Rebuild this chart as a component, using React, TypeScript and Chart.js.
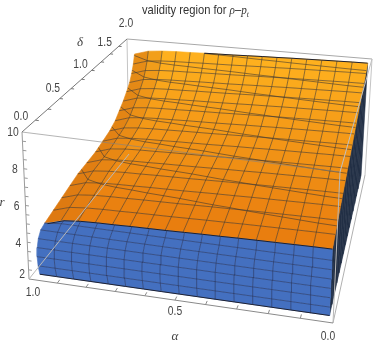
import React, { useEffect, useRef } from "react";
import { Chart, registerables } from "chart.js";
Chart.register(...registerables);

const alphaTicks = [1.0, 0.5, 0.0];
const deltaTicks = [0.0, 0.5, 1.0, 1.5, 2.0];
const rTicks = [2, 4, 6, 8, 10];
// surface height r along delta (delta = 0, 0.125, ... 2)
const rAlongDelta = [5.6, 5.85, 6.1, 6.35, 6.6, 6.85, 7.1, 7.35, 7.6, 7.85, 8.1, 8.35, 8.6, 8.85, 9.1, 9.4, 9.75];
// left limit of the surface in 1-alpha for each delta
const leftLimit = [0.05, 0.055, 0.06, 0.065, 0.07, 0.08, 0.09, 0.095, 0.1, 0.1, 0.095, 0.09, 0.083, 0.075, 0.063, 0.05, 0.035];
// drop of r towards the left rim, by column of 1-alpha
const rimDrop = [0.7, 0.42, 0.33, 0.29, 0.27, 0.24, 0.22, 0.2, 0.17, 0.14, 0.12, 0.09, 0.07, 0.05, 0.03, 0.01, 0];
// left limit of the front wall for r levels
const wallLevels = [2.05, 2.5, 3, 3.5, 4, 4.5, 5, 5.6];
const wallLeft = [0.025, 0.02, 0.018, 0.02, 0.025, 0.035, 0.05, 0.06];
const uMax = 0.985;
const vFront = 0.03;

// projection box: [u(1-alpha), v(delta/2), w((r-2)/8)] corners, in canvas pixels
const corners: Record<string, [number, number]> = {
  "000": [29, 279], "100": [333, 323], "110": [365, 175], "010": [129, 154],
  "001": [22, 132], "101": [340, 172], "111": [372, 59], "011": [127, 39],
};
const wu = -0.076, wv = 0.31, ww = 0;
function project(u: number, v: number, w: number) {
  let X = 0, Y = 0, T = 0;
  for (const a of [0, 1]) for (const b of [0, 1]) for (const c of [0, 1]) {
    const B = (a ? u : 1 - u) * (b ? v : 1 - v) * (c ? w : 1 - w);
    const W = (1 + wu * a + wv * b + ww * c) * B;
    const p = corners[`${a}${b}${c}`];
    X += p[0] * W; Y += p[1] * W; T += W;
  }
  return { x: X / T, y: Y / T };
}
const W = (r: number) => (r - 2) / 8;
const N = rAlongDelta.length - 1;
const mix = (a: number[], b: number[], t: number) => a.map((x, i) => Math.round(x + (b[i] - x) * t));
const rgb = (c: number[]) => `rgb(${c[0]},${c[1]},${c[2]})`;

function gridU(i: number, j: number) {
  return leftLimit[j] + (uMax - leftLimit[j]) * (i / N);
}
function gridPoint(i: number, j: number) {
  const v = vFront + (j / N) * (1 - vFront - 0.01);
  return project(gridU(i, j), v, W(rAlongDelta[j] - rimDrop[i]));
}

function buildDatasets() {
  const out: any[] = [];
  const poly = (pts: any[], color: string) =>
    out.push({ data: [...pts, pts[0]], showLine: true, fill: "shape", backgroundColor: color, borderColor: color, borderWidth: 0.6, pointRadius: 0, tension: 0 });
  const line = (pts: any[], color: string, width = 1) =>
    out.push({ data: pts, showLine: true, fill: false, borderColor: color, borderWidth: width, pointRadius: 0, tension: 0 });
  const edge = (a: number[], b: number[], color: string) =>
    line([project(a[0], a[1], a[2]), project(b[0], b[1], b[2])], color);

  // back box edges
  const light = "#c4c4c4";
  edge([0, 1, 1], [1, 1, 1], "#a8a8a8");
  edge([1, 1, 1], [1, 1, 0], light);
  edge([0, 1, 1], [0, 1, 0], light);
  edge([1, 1, 0], [1, 0, 0], "#b0b0b0");

  // dark side
  for (let j = 0; j < N; j++) {
    const vA = vFront + (j / N) * (1 - vFront - 0.01), vB = vFront + ((j + 1) / N) * (1 - vFront - 0.01);
    poly([project(uMax, vA, 0.005), project(uMax, vB, 0.005), project(uMax, vB, W(rAlongDelta[j + 1])), project(uMax, vA, W(rAlongDelta[j]))], "#222f45");
  }
  // orange surface
  for (let j = N - 1; j >= 0; j--) {
    for (let i = 0; i < N; i++) {
      const t = (j + 0.5) / N;
      let c = mix([232, 124, 14], [255, 178, 30], t);
      if (i < 2) c = mix(c, [214, 118, 18], ((2 - i) / 2) * 0.6);
      poly([gridPoint(i, j), gridPoint(i + 1, j), gridPoint(i + 1, j + 1), gridPoint(i, j + 1)], rgb(c));
    }
  }
  // front wall
  const levelsAt = (i: number) => wallLevels.map((lv, k) => {
    const top = rAlongDelta[0] - rimDrop[i];
    const r = Math.min(lv, top);
    const left = wallLeft[k];
    return project(left + (uMax - left) * (i / N), vFront, W(r));
  });
  for (let i = 0; i < N; i++) {
    const a = levelsAt(i), b = levelsAt(i + 1);
    for (let k = 0; k < wallLevels.length - 1; k++) poly([a[k], b[k], b[k + 1], a[k + 1]], "#4470c0");
  }
  const wallMesh = "rgba(40,50,85,0.55)";
  for (let i = 1; i < N; i++) line(levelsAt(i), wallMesh);
  for (let k = 1; k < wallLevels.length - 1; k++) {
    const pts = [];
    for (let i = 0; i <= N; i++) pts.push(levelsAt(i)[k]);
    line(pts, wallMesh);
  }
  // mesh of the surface
  const mesh = "rgba(60,55,50,0.58)";
  for (let i = 1; i < N; i++) {
    const pts = [];
    for (let j = 0; j <= N; j++) pts.push(gridPoint(i, j));
    line(pts, mesh);
  }
  for (let j = 1; j < N; j++) {
    const pts = [];
    for (let i = 0; i <= N; i++) pts.push(gridPoint(i, j));
    line(pts, mesh);
  }
  for (let lv = 6; lv <= 9.5; lv += 0.5) {
    const pts = [];
    for (let i = 0; i <= N; i++) {
      for (let j = 0; j < N; j++) {
        const r0 = rAlongDelta[j] - rimDrop[i], r1 = rAlongDelta[j + 1] - rimDrop[i];
        if (r0 <= lv && lv < r1) {
          const f = (lv - r0) / (r1 - r0);
          const a = gridPoint(i, j), b = gridPoint(i, j + 1);
          pts.push({ x: a.x + (b.x - a.x) * f, y: a.y + (b.y - a.y) * f });
          break;
        }
      }
    }
    line(pts, mesh);
  }
  // crisp rims
  const rim = "#1d2030";
  const topBack = [];
  for (let i = 5; i <= N; i++) topBack.push(gridPoint(i, N));
  line(topBack, rim);
  const wallTop = [];
  for (let i = 0; i <= N; i++) wallTop.push(levelsAt(i)[wallLevels.length - 1]);
  line(wallTop, rim);
  const wallBottom = [];
  for (let i = 0; i <= N; i++) wallBottom.push(levelsAt(i)[0]);
  line(wallBottom, rim);

  // front box edges and axes
  edge([0, 0, 1], [1, 0, 1], "rgba(130,130,130,0.6)");
  edge([1, 0, 1], [1, 0, 0], "#b8b8b8");
  edge([1, 1, 1], [1, 0, 1], "#c0c0c0");
  const axis = "#8a8a8a";
  edge([0, 0, 0], [1, 0, 0], axis);
  edge([0, 0, 0], [0, 0, 1], "#9a9a9a");
  edge([0, 0, 1], [0, 1, 1], "#777777");
  edge([0, 0, 0], [0, 1, 0], "#b8b8b8");
  for (let k = 1; k < 10; k++) {
    edge([k / 10, 0, 0], [k / 10, 0.02, 0], axis);
    edge([0, k / 20 * 2, 1], [0.012, k / 20 * 2, 1], "#777777");
  }
  for (let k = 1; k < 16; k++) edge([0, 0, k / 16], [0.012, 0, k / 16], "#9a9a9a");
  return out;
}

const textPlugin = {
  id: "labels3d",
  afterDraw(chart: any) {
    const { ctx, scales } = chart;
    const narrow = 0.86;
    const put = (text: string, x: number, y: number, font: string, color = "#454545", sx = narrow) => {
      ctx.save();
      ctx.font = font; ctx.fillStyle = color; ctx.textAlign = "center"; ctx.textBaseline = "middle";
      ctx.translate(scales.x.getPixelForValue(x), scales.y.getPixelForValue(y));
      ctx.scale(sx, 1);
      ctx.fillText(text, 0, 0);
      ctx.restore();
    };
    const tick = "12px 'Liberation Sans'";
    alphaTicks.forEach((a) => {
      const p = project(1 - a, 0, 0);
      put(a.toFixed(1), p.x + (a === 1 ? 4 : a === 0 ? -5 : 0), p.y + (a === 1 ? 14 : a === 0 ? 14 : 12), tick);
    });
    deltaTicks.forEach((d) => {
      const p = project(0, d / 2, 1);
      put(d.toFixed(1), p.x - 1, p.y - 15, tick);
    });
    rTicks.forEach((r) => {
      const p = project(0, 0, (r - 2) / 8);
      put(String(r), p.x - (r === 2 ? 7 : 9), p.y + (r === 10 ? 1 : r === 2 ? -4 : 1), tick);
    });
    put("α", 175, 337, "italic 13px 'Liberation Serif'", "#454545", 1);
    put("δ", 80, 43, "italic 13px 'Liberation Serif'", "#454545", 1);
    put("r", 2, 203, "italic 13px 'Liberation Serif'", "#454545", 1);
    // title
    const parts: [string, string, number][] = [
      ["validity region for ", "13px 'Liberation Sans'", 0],
      ["ρ", "italic 13px 'Liberation Serif'", 0],
      ["–", "13px 'Liberation Sans'", 0],
      ["p", "italic 13px 'Liberation Serif'", 0],
      ["t", "italic 9px 'Liberation Serif'", 3],
    ];
    ctx.save();
    ctx.translate(142, 14);
    ctx.scale(0.86, 1);
    ctx.textAlign = "left"; ctx.textBaseline = "alphabetic"; ctx.fillStyle = "#333";
    let x = 0;
    for (const [s, f, dy] of parts) {
      ctx.font = f;
      ctx.fillText(s, x, dy);
      x += ctx.measureText(s).width;
    }
    ctx.restore();
  },
};

export default function App() {
  const ref = useRef<HTMLCanvasElement>(null);
  useEffect(() => {
    const chart = new Chart(ref.current!, {
      type: "scatter",
      data: { datasets: buildDatasets().reverse() },
      options: {
        animation: false, responsive: false, events: [],
        layout: { padding: 0 },
        plugins: { legend: { display: false }, tooltip: { enabled: false }, title: { display: false } },
        scales: {
          x: { type: "linear", min: 0, max: 374, display: false },
          y: { type: "linear", min: 0, max: 346, reverse: true, display: false },
        },
      },
      plugins: [textPlugin],
    } as any);
    return () => chart.destroy();
  }, []);
  return (
    <div style={{ position: "absolute", left: 0, top: 0, width: 374, height: 346, background: "#fff" }}>
      <canvas ref={ref} width={374} height={346} style={{ display: "block" }} />
    </div>
  );
}
